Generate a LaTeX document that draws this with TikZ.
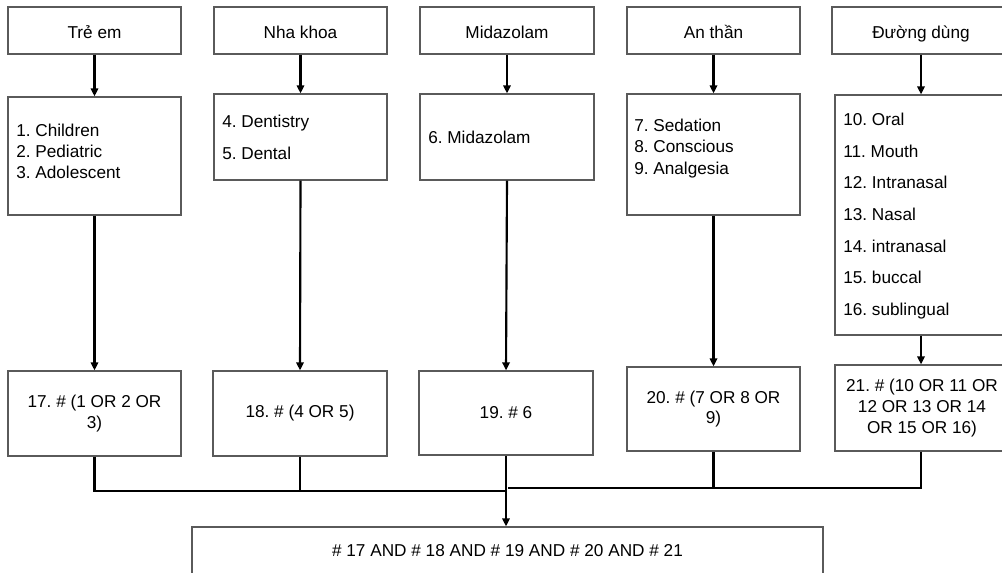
\documentclass[tikz,border=0pt]{standalone}
\usepackage{fontspec}
\setmainfont{Liberation Sans}
\usetikzlibrary{arrows.meta}
\definecolor{boxgray}{HTML}{5A5A5A}
\frenchspacing
\begin{document}
\begin{tikzpicture}[x=0.75pt,y=-0.75pt,
  sz/.style 2 args={minimum width=#1*0.75pt, minimum height=#2*0.75pt},
  box/.style={draw=boxgray, line width=0.9pt, inner sep=0pt, align=center,
    font=\fontsize{12.9}{15.5}\selectfont},
  topbox/.style={box, text height=14pt, text depth=2.5pt},
  lbl/.style={inner sep=0pt, align=left, anchor=west},
  conn/.style={line width=1.6pt, draw=black},
  arr/.style={conn, -{Triangle[length=6pt,width=5.5pt]}}]
\clip (0,0) rectangle (1002,572);
\fill[white] (0,0) rectangle (1002,572);
% top row
\node[topbox, sz={173}{47}] (t1) at (94.5,30.5) {Trẻ em};
\node[topbox, sz={173}{47}] (t2) at (300.5,30.5) {Nha khoa};
\node[topbox, sz={174}{47}] (t3) at (507,30.5) {Midazolam};
\node[topbox, sz={173}{47}] (t4) at (713.5,30.5) {An thần};
\node[topbox, sz={178}{47}] (t5) at (921,30.5) {Đường dùng};
% middle row
\node[box, sz={173}{118}] (m1) at (94.5,156) {};
\node[box, sz={173}{86}] (m2) at (300.5,137) {};
\node[box, sz={174}{86}] (m3) at (507,137) {};
\node[box, sz={173}{121}] (m4) at (713.5,154.5) {};
\node[box, sz={180}{240}] (m5) at (925,215) {};
\node[lbl, font=\fontsize{12.9}{15.75}\selectfont] (m1t) at (16,151) {1. Children\\2. Pediatric\\3. Adolescent};
\node[lbl, font=\fontsize{12.9}{24}\selectfont] (m2t) at (222,137) {4. Dentistry\\5. Dental};
\node[lbl, font=\fontsize{12.9}{15}\selectfont] (m3t) at (428,137) {6. Midazolam};
\node[lbl, font=\fontsize{12.9}{16}\selectfont] (m4t) at (634,148.5) {7. Sedation\\8. Conscious\\9. Analgesia};
\node[lbl, font=\fontsize{12.9}{23.75}\selectfont] (m5t) at (843,216) {10. Oral\\11. Mouth\\12. Intranasal\\13. Nasal\\14. intranasal\\15. buccal\\16. sublingual};
% bottom row
\node[box, sz={173}{85}] (b1) at (94.5,413.5) {17. \# (1 OR 2 OR\\3)};
\node[box, sz={174}{85}] (b2) at (300,413.5) {18. \# (4 OR 5)};
\node[box, sz={174}{84}] (b3) at (506,413) {19. \# 6};
\node[box, sz={173}{84}] (b4) at (713.5,409) {20. \# (7 OR 8 OR\\9)};
\node[box, sz={174}{86}] (b5) at (922,408) {21. \# (10 OR 11 OR\\12 OR 13 OR 14\\OR 15 OR 16)};
% final
\node[box, sz={631}{48}] (f) at (507.5,551) {\# 17 AND \# 18 AND \# 19 AND \# 20 AND \# 21};
% connectors
\foreach \i in {1,...,5} {\draw[arr] (t\i.south) -- (m\i.north -| t\i.south);}
\draw[arr] (m1.south) -- (b1.north);
\draw[arr] (m2.south) -- (b2.north);
\draw[arr] (m3.south) -- (b3.north);
\draw[arr] (m4.south) -- (b4.north);
\draw[arr] (m5.south -| t5.south) -- (b5.north -| t5.south);
\coordinate (jl) at (506,491);
\coordinate (jr) at (508,488);
\draw[conn] (b1.south) |- (jl);
\draw[conn] (b2.south) -- (b2.south |- jl);
\draw[conn] (b5.south -| t5.south) |- (jr);
\draw[conn] (b4.south) -- (b4.south |- jr);
\draw[arr] (b3.south) -- (f.north -| b3.south);
\end{tikzpicture}
\end{document}
